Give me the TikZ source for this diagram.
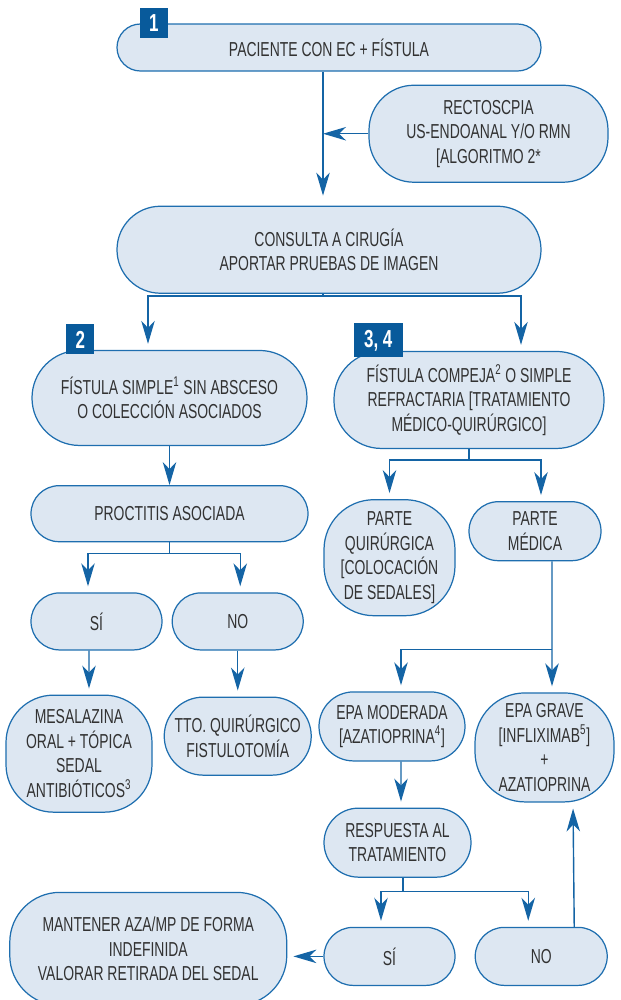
\documentclass[tikz,border=0pt]{standalone}
\usepackage{fontspec}
\setmainfont{Liberation Sans}[FakeStretch=0.69]
\usetikzlibrary{positioning, arrows.meta}

\definecolor{boxfill}{RGB}{221,231,242}
\definecolor{boxline}{RGB}{30,110,175}
\definecolor{arrowblue}{RGB}{20,100,165}
\definecolor{badgeblue}{RGB}{8,90,155}
\definecolor{textgray}{RGB}{50,50,50}

\begin{document}
\begin{tikzpicture}[
		box/.style={rectangle, draw=boxline, fill=boxfill, line width=0.7pt, rounded corners=#1, align=center, text=textgray, inner sep=0pt, font=\fontsize{11.5}{13.9}\selectfont},
		box/.default=0.5cm,
		badge/.style={rectangle, fill=badgeblue, text=white, inner sep=0pt, minimum width=0.56cm, minimum height=0.6cm, font=\bfseries\fontsize{14}{14}\selectfont},
		line/.style={line width=0.8pt, draw=arrowblue},
		arrow/.style={line, -{Stealth[length=0.46cm, width=0.27cm, inset=0.14cm]}, shorten >=0.12cm}
		]
		\useasboundingbox (0,0) rectangle (12.42,-20);
		
		% Nodes
		\node[box=0.47cm, minimum width=8.48cm, minimum height=0.94cm] (pac) at (6.58,-0.95) {PACIENTE CON EC + FÍSTULA};
		\node[box=0.9cm, minimum width=4.78cm, minimum height=1.94cm, below=0.26cm of pac, xshift=3.19cm] (rect) {RECTOSCPIA\\US-ENDOANAL Y/O RMN\\{[}ALGORITMO 2*};
		\node[box=0.87cm, minimum width=8.48cm, minimum height=1.74cm, below=2.68cm of pac] (cons) {CONSULTA A CIRUGÍA\\APORTAR PRUEBAS DE IMAGEN};
		\node[box=0.95cm, minimum width=5.5cm, minimum height=1.9cm, below=1.12cm of cons, xshift=-3.19cm] (simp) {FÍSTULA SIMPLE\textsuperscript{1} SIN ABSCESO\\O COLECCIÓN ASOCIADOS};
		\node[box=0.95cm, minimum width=5.4cm, minimum height=1.94cm, below=1.14cm of cons, xshift=2.8cm] (comp) {FÍSTULA COMPEJA\textsuperscript{2} O SIMPLE\\REFRACTARIA [TRATAMIENTO\\MÉDICO-QUIRÚRGICO]};
		\node[box=0.56cm, minimum width=5.54cm, minimum height=1.12cm, below=0.78cm of simp] (proc) {PROCTITIS ASOCIADA};
		\node[box=0.57cm, minimum width=2.62cm, minimum height=1.14cm, below=1.0cm of proc, xshift=-1.46cm] (si1) {SÍ};
		\node[box=0.57cm, minimum width=2.62cm, minimum height=1.14cm, right=0.18cm of si1] (no1) {NO};
		\node[box=0.95cm, minimum width=2.92cm, minimum height=2.34cm, below=0.88cm of si1, xshift=-0.35cm] (mesa) {MESALAZINA\\ORAL + TÓPICA\\SEDAL\\ANTIBIÓTICOS\textsuperscript{3}};
		\node[box=0.78cm, minimum width=2.94cm, minimum height=1.56cm, below=0.92cm of no1] (tto) {TTO. QUIRÚRGICO\\FISTULOTOMÍA};
		\node[box=1.0cm, minimum width=2.62cm, minimum height=2.32cm, below=1.0cm of comp, xshift=-1.59cm] (pq) {PARTE\\QUIRÚRGICA\\{[}COLOCACIÓN\\DE SEDALES]};
		\node[box=0.59cm, minimum width=2.64cm, minimum height=1.18cm, below=1.04cm of comp, xshift=1.32cm] (pm) {PARTE\\MÉDICA};
		\node[box=0.69cm, minimum width=2.92cm, minimum height=1.38cm, below=1.5cm of pq, xshift=0.05cm] (epam) {EPA MODERADA\\{[}AZATIOPRINA\textsuperscript{4}]};
		\node[box=1.0cm, minimum width=2.78cm, minimum height=2.18cm, below=2.62cm of pm, xshift=0.19cm] (epag) {EPA GRAVE\\{[}INFLIXIMAB\textsuperscript{5}]\\+\\AZATIOPRINA};
		\node[box=0.69cm, minimum width=2.94cm, minimum height=1.38cm, below=0.92cm of epam, xshift=0.11cm] (resp) {RESPUESTA AL\\TRATAMIENTO};
		\node[box=0.58cm, minimum width=2.62cm, minimum height=1.16cm, below=0.98cm of resp, xshift=-0.16cm] (si2) {SÍ};
		\node[box=0.58cm, minimum width=2.64cm, minimum height=1.16cm, right=0.38cm of si2] (no2) {NO};
		\node[box=1.0cm, minimum width=5.54cm, minimum height=2.26cm, left=0.72cm of si2, yshift=0.15cm] (mant) {MANTENER AZA/MP DE FORMA\\INDEFINIDA\\VALORAR RETIRADA DEL SEDAL};
		
		% Badges
		\node[badge, anchor=south west] (n1) at ([xshift=0.46cm, yshift=-0.3cm]pac.north west) {1};
		\node[badge, anchor=south west] (n2) at ([xshift=0.69cm, yshift=-0.1cm]simp.north west) {2};
		\node[badge, anchor=south west, minimum width=0.98cm, minimum height=0.68cm] (n34) at ([xshift=0.4cm, yshift=-0.14cm]comp.north west) {3, 4};
		
		% Edges
		\coordinate (stem) at ([xshift=-0.12cm]pac.south);
		\draw[arrow, shorten >=0.2cm] (stem) -- ([xshift=-0.12cm]cons.north);
		\draw[arrow, shorten >=0pt] (rect.west) -- (stem |- rect.west);
		
		\coordinate (f1) at ([xshift=-0.12cm, yshift=-0.04cm]cons.south);
		\draw[line] ([xshift=-0.12cm]cons.south) -- (f1);
		\draw[arrow] (f1) -| ([xshift=-0.43cm]simp.north);
		\draw[arrow] (f1) -| ([xshift=1.04cm]comp.north);
		
		\draw[arrow, shorten >=0pt] (simp.south) -- (proc.north);
		\coordinate (f2) at ([yshift=-0.22cm]proc.south);
		\draw[line] (proc.south) -- (f2);
		\draw[arrow] (f2) -| ([xshift=-0.17cm]si1.north);
		\draw[arrow] (f2) -| ([xshift=0.05cm]no1.north);
		\draw[arrow] ([xshift=-0.15cm]si1.south) -- ([xshift=0.2cm]mesa.north);
		\draw[arrow] (no1.south) -- (tto.north);
		
		\coordinate (f3) at ([yshift=-0.22cm]comp.south);
		\draw[line] (comp.south) -- (f3);
		\draw[arrow] (f3) -| (pq.north);
		\draw[arrow] (f3) -| ([xshift=0.12cm]pm.north);
		
		\coordinate (f4) at ([xshift=0.34cm, yshift=-1.76cm]pm.south);
		\draw[arrow] ([xshift=0.34cm]pm.south) -- ([xshift=0.15cm]epag.north);
		\draw[arrow] (f4) -| ([xshift=0.18cm]epam.north);
		\draw[arrow] ([xshift=0.18cm]epam.south) -- ([xshift=0.07cm]resp.north);
		
		\coordinate (f5) at ([xshift=0.11cm, yshift=-0.28cm]resp.south);
		\draw[line] ([xshift=0.11cm]resp.south) -- (f5);
		\draw[arrow] (f5) -| ([xshift=-0.17cm]si2.north);
		\draw[arrow] (f5) -| ([xshift=-0.26cm]no2.north);
		\draw[arrow] (si2.west) -- (si2.west -| mant.east);
		\draw[arrow] ([xshift=0.66cm]no2.north) -- ([xshift=0.57cm]epag.south);
		
	\end{tikzpicture}
\end{document}
